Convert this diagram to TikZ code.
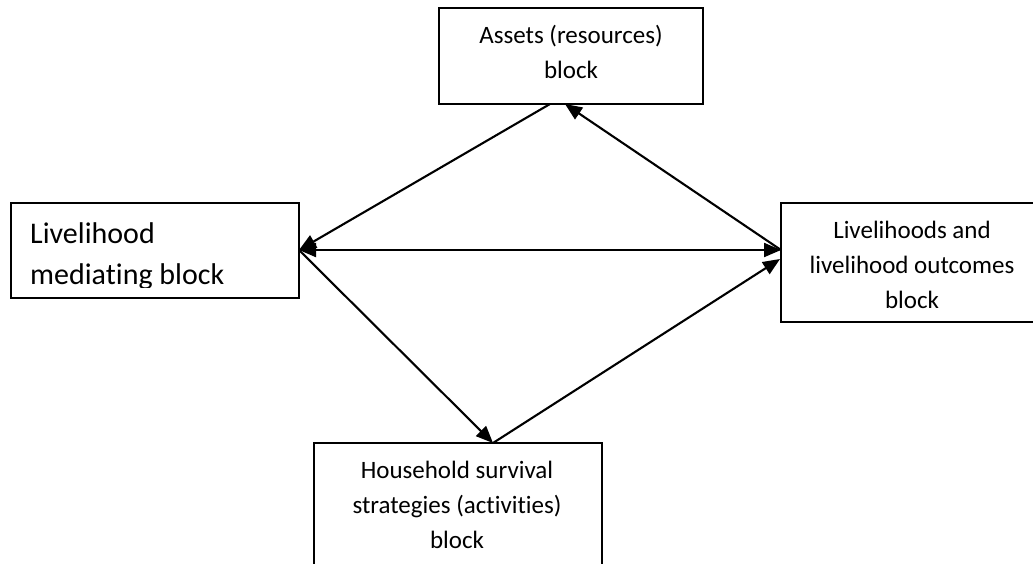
\documentclass[tikz,border=0pt]{standalone}
\usepackage{fontspec}
\setmainfont{Carlito}[Ligatures={NoCommon,NoRequired,NoContextual}]
\usetikzlibrary{arrows.meta}
\begin{document}
\begin{tikzpicture}[x=1pt,y=-1pt,
  box/.style={draw, line width=1.9pt, inner sep=0pt},
  lbl/.style={font=\fontsize{25}{30}\selectfont, anchor=base, inner sep=0pt},
  big/.style={font=\fontsize{30}{36}\selectfont, anchor=base west, inner sep=0pt},
  link/.style={line width=2.1pt},
  >={Triangle[length=17pt,width=14pt]}]
\useasboundingbox (0,0) rectangle (1033,563);
\clip (0,0) rectangle (1033,563);
% boxes
\node[box, minimum width=264pt, minimum height=96pt] (assets) at (571,56) {};
\node[box, minimum width=288pt, minimum height=95pt] (med) at (155,250.5) {};
\node[box, minimum width=280pt, minimum height=119pt] (out) at (921,262.5) {};
\node[box, minimum width=288pt, minimum height=160pt] (hh) at (458,523) {};
% texts
\node[lbl] (assets1) at (571,43) {Assets (resources)};
\node[lbl] (assets2) at (571,78) {block};
\begin{scope}
  \clip (11,203) rectangle (299,287);
  \node[big] (med1) at (30,243) {Livelihood};
  \node[big] (med2) at (30,284) {mediating block};
\end{scope}
\node[lbl] (out1) at (912,238) {Livelihoods and};
\node[lbl] (out2) at (912,273) {livelihood outcomes};
\node[lbl] (out3) at (912,308) {block};
\node[lbl] (hh1) at (457,478) {Household survival};
\node[lbl] (hh2) at (457,513) {strategies (activities)};
\node[lbl] (hh3) at (457,548) {block};
% connector end points
\coordinate (a1) at (550,104);
\coordinate (a2) at (565,104);
\coordinate (m) at (299,250);
\coordinate (o1) at (781,250);
\coordinate (o2) at (780,259);
\coordinate (h) at (493,443);
% connectors
\draw[link,->] (a1) -- (m);
\draw[link,->] (o1) -- (a2);
\draw[link,<->] (m) -- (o1);
\draw[link,->] (m) -- (h);
\draw[link,->] (h) -- (o2);
\end{tikzpicture}
\end{document}
